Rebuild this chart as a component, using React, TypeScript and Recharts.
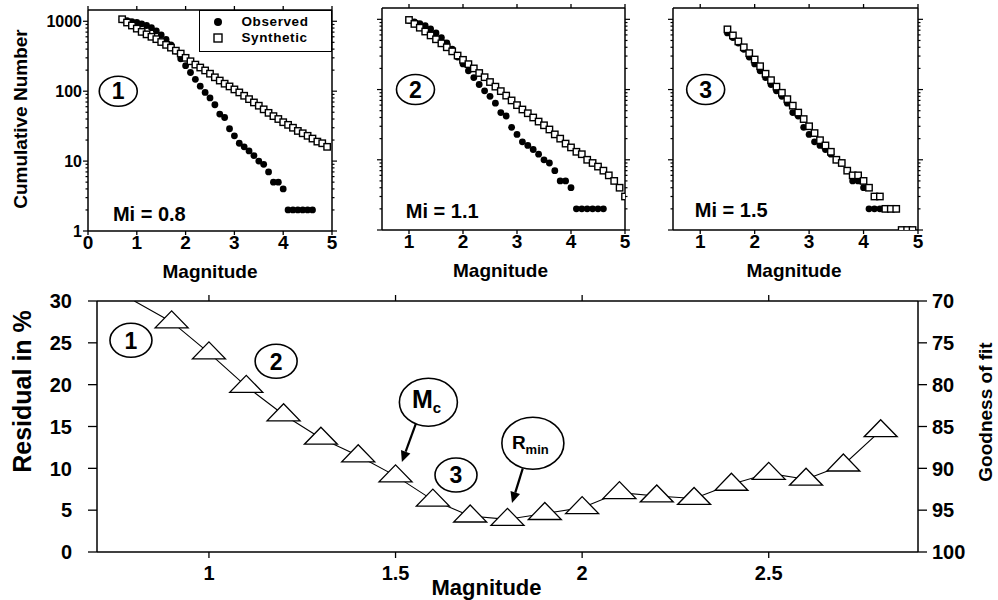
import React from 'react';
import {
  ScatterChart,
  Scatter,
  ComposedChart,
  Line,
  XAxis,
  YAxis,
  ReferenceDot,
  ReferenceLine,
  Legend,
} from 'recharts';

const FONT = '"Liberation Sans", Arial, Helvetica, sans-serif';
const INK = '#000';

// Observed catalogue: cumulative number of events with magnitude >= M
const observedMagnitudes = [
  0.7, 0.8, 0.9, 1.0, 1.1, 1.2, 1.3, 1.4, 1.5, 1.6, 1.7, 1.8, 1.9, 2.0,
  2.1, 2.2, 2.3, 2.4, 2.5, 2.6, 2.7, 2.8, 2.9, 3.0, 3.1, 3.2, 3.3, 3.4,
  3.5, 3.6, 3.7, 3.8, 3.9, 4.0, 4.1, 4.2, 4.3, 4.4, 4.5, 4.6,
];
const observedCounts = [
  1050, 1020, 990, 960, 920, 870, 810, 730, 640, 550, 460, 375, 290, 232,
  185, 148, 118, 96, 80, 64, 47, 42, 29, 23, 18, 16, 14, 12,
  10, 9, 7, 5, 5, 4, 2, 2, 2, 2, 2, 2,
];

// Synthetic distributions for the three cut-off magnitudes
const synthMagnitudes1 = [
  0.7, 0.8, 0.9, 1.0, 1.1, 1.2, 1.3, 1.4, 1.5, 1.6, 1.7, 1.8, 1.9, 2.0,
  2.1, 2.2, 2.3, 2.4, 2.5, 2.6, 2.7, 2.8, 2.9, 3.0, 3.1, 3.2, 3.3, 3.4,
  3.5, 3.6, 3.7, 3.8, 3.9, 4.0, 4.1, 4.2, 4.3, 4.4, 4.5, 4.6, 4.7, 4.8, 4.9,
];
const synthCounts1 = [
  1070, 960, 870, 785, 705, 650, 600, 555, 505, 460, 420, 380, 345, 300,
  268, 240, 218, 198, 178, 158, 142, 128, 117, 106, 96, 86, 77, 69,
  62, 55, 49, 44, 40, 36, 33, 30, 27, 25, 23, 21, 19, 18, 16,
];

const synthMagnitudes2 = [
  1.0, 1.1, 1.2, 1.3, 1.4, 1.5, 1.6, 1.7, 1.8, 1.9, 2.0, 2.1, 2.2, 2.3,
  2.4, 2.5, 2.6, 2.7, 2.8, 2.9, 3.0, 3.1, 3.2, 3.3, 3.4, 3.5, 3.6, 3.7,
  3.8, 3.9, 4.0, 4.1, 4.2, 4.3, 4.4, 4.5, 4.6, 4.7, 4.8, 4.9, 5.0,
];
const synthCounts2 = [
  980, 860, 760, 670, 590, 520, 455, 400, 350, 305, 265, 230, 200, 172,
  150, 128, 110, 95, 82, 70, 60, 52, 46, 40, 35, 31, 27, 23,
  20, 17, 15, 13, 12, 10, 9, 8, 7, 6, 5, 4, 3,
];

const synthMagnitudes3 = [
  1.5, 1.6, 1.7, 1.8, 1.9, 2.0, 2.1, 2.2, 2.3, 2.4, 2.5, 2.6, 2.7, 2.8,
  2.9, 3.0, 3.1, 3.2, 3.3, 3.4, 3.5, 3.6, 3.7, 3.8, 3.9, 4.0, 4.1, 4.2,
  4.3, 4.4, 4.5, 4.6, 4.7, 4.8, 4.9,
];
const synthCounts3 = [
  720, 590, 485, 400, 330, 268, 215, 168, 136, 110, 90, 73, 59, 47,
  38, 30, 24, 19, 16, 13, 10, 9, 7, 6, 6, 5, 4, 3,
  3, 2, 2, 2, 1, 1, 1,
];

const cutoffMagnitudes = [0.8, 1.1, 1.5];
const panelTags = ['1', '2', '3'];

const countTicks = [
  1, 2, 3, 4, 5, 6, 7, 8, 9,
  10, 20, 30, 40, 50, 60, 70, 80, 90,
  100, 200, 300, 400, 500, 600, 700, 800, 900,
  1000,
];
const countLabels = [1, 10, 100, 1000];
const magTicksFull = [0, 1, 2, 3, 4, 5];
const magTicksShort = [1, 2, 3, 4, 5];

// Residual scan over trial completeness magnitudes
const scanMagnitudes = [
  0.8, 0.9, 1.0, 1.1, 1.2, 1.3, 1.4, 1.5, 1.6, 1.7, 1.8,
  1.9, 2.0, 2.1, 2.2, 2.3, 2.4, 2.5, 2.6, 2.7, 2.8,
];
const residuals = [
  30, 27.5, 23.8, 19.8, 16.4, 13.6, 11.5, 9.1, 6.2, 4.3, 3.9,
  4.6, 5.3, 7.1, 6.7, 6.4, 8.1, 9.4, 8.7, 10.4, 14.5,
];
const scanTicks = [1, 1.5, 2, 2.5];
const residualTicks = [0, 5, 10, 15, 20, 25, 30];
const goodnessTicks = [70, 75, 80, 85, 90, 95, 100];

const pairs = (ms: number[], ns: number[]) => ms.map((m, i) => ({ m, n: ns[i] }));
const observed = pairs(observedMagnitudes, observedCounts);
const scanRows = scanMagnitudes.map((m, i) => ({ m, r: residuals[i] }));

const txt = { fontFamily: FONT, fontWeight: 700, fill: INK } as const;
const AXIS = { stroke: INK, strokeWidth: 1.5 };

/* ---------- tick renderers ---------- */
const bottomTick = (len: number, gap: number, size: number) => (p: any) => (
  <g>
    <line x1={p.x} x2={p.x} y1={p.y} y2={p.y + len} stroke={INK} strokeWidth={1.3} />
    <text x={p.x} y={p.y + gap} textAnchor="middle" fontSize={size} {...txt}>
      {p.payload.value}
    </text>
  </g>
);
const topTick = (len: number) => (p: any) => (
  <line x1={p.x} x2={p.x} y1={p.y} y2={p.y - len} stroke={INK} strokeWidth={1.3} />
);
const leftLogTick = (withLabels: boolean) => (p: any) => {
  const v = p.payload.value;
  const major = countLabels.includes(v);
  return (
    <g>
      <line x1={p.x} x2={p.x - (major ? 5 : 2.5)} y1={p.y} y2={p.y} stroke={INK} strokeWidth={1.2} />
      {withLabels && major && (
        <text x={p.x - 6} y={p.y} dy="0.36em" textAnchor="end" fontSize={16} {...txt}>
          {v}
        </text>
      )}
    </g>
  );
};
const rightLogTick = (p: any) => {
  const major = countLabels.includes(p.payload.value);
  return (
    <line x1={p.x} x2={p.x + (major ? 5 : 2.5)} y1={p.y} y2={p.y} stroke={INK} strokeWidth={1.2} />
  );
};
const sideTick = (dir: number, len: number, gap: number, size: number) => (p: any) => (
  <g>
    <line x1={p.x} x2={p.x + dir * len} y1={p.y} y2={p.y} stroke={INK} strokeWidth={1.3} />
    <text
      x={p.x + dir * gap}
      y={p.y}
      dy="0.36em"
      textAnchor={dir < 0 ? 'end' : 'start'}
      fontSize={size}
      {...txt}
    >
      {p.payload.value}
    </text>
  </g>
);

/* ---------- marks ---------- */
const ObservedDot = (p: any) => <circle cx={p.cx} cy={p.cy} r={3.4} fill={INK} />;
const SynthSquare = (p: any) => (
  <rect x={p.cx - 3.2} y={p.cy - 3.2} width={6.4} height={6.4} fill="#fff" stroke={INK} strokeWidth={1.4} />
);
const TriangleDot = (p: any) => {
  if (p.index === 0 || p.cx == null) return <g key={`tri-${p.index}`} />;
  const { cx, cy } = p;
  return (
    <polygon
      key={`tri-${p.index}`}
      points={`${cx},${cy - 11} ${cx + 16.5},${cy + 6} ${cx - 16.5},${cy + 6}`}
      fill="#fff"
      stroke={INK}
      strokeWidth={1.3}
    />
  );
};

/* ---------- annotations ---------- */
const circledTag = (text: string, rx: number, ry: number, size: number) => (p: any) => (
  <g>
    <ellipse cx={p.cx} cy={p.cy} rx={rx} ry={ry} fill="none" stroke={INK} strokeWidth={1.6} />
    <text x={p.cx} y={p.cy} dy="0.36em" textAnchor="middle" fontSize={size} {...txt}>
      {text}
    </text>
  </g>
);
const plainText = (text: string, size: number) => (p: any) => (
  <text x={p.cx} y={p.cy} fontSize={size} {...txt}>
    {text}
  </text>
);
const subscriptTag = (
  main: string,
  sub: string,
  rx: number,
  ry: number,
  mainSize: number,
  subSize: number,
  startDx: number,
) => (p: any) => (
  <g>
    <ellipse cx={p.cx} cy={p.cy} rx={rx} ry={ry} fill="#fff" stroke={INK} strokeWidth={1.6} />
    <text x={p.cx + startDx} y={p.cy + 5.5} fontSize={mainSize} {...txt}>
      {main}
      <tspan fontSize={subSize} dy={5}>
        {sub}
      </tspan>
    </text>
  </g>
);
const Arrow = (p: any) => {
  const { x1, y1, x2, y2 } = p;
  const ang = Math.atan2(y2 - y1, x2 - x1);
  const len = 11;
  const half = 5;
  const bx = x2 - len * Math.cos(ang);
  const by = y2 - len * Math.sin(ang);
  const px = -Math.sin(ang) * half;
  const py = Math.cos(ang) * half;
  return (
    <g>
      <line x1={x1} y1={y1} x2={bx} y2={by} stroke={INK} strokeWidth={2.2} />
      <polygon points={`${x2},${y2} ${bx + px},${by + py} ${bx - px},${by - py}`} fill={INK} />
    </g>
  );
};

const LegendBox = (props: any) => (
  <div
    style={{
      border: '1.5px solid #000',
      width: 133,
      height: 42,
      boxSizing: 'border-box',
      padding: '3px 0 0 13px',
      background: '#fff',
      fontFamily: FONT,
      fontWeight: 700,
      fontSize: 13.5,
      lineHeight: '16px',
      color: INK,
      letterSpacing: 0.6,
    }}
  >
    {(props.payload || []).map((entry: any) => (
      <div key={entry.value} style={{ display: 'flex', alignItems: 'center', height: 16 }}>
        <svg width={10} height={10} style={{ marginRight: 18.5, flex: 'none' }}>
          {entry.value === 'Observed' ? (
            <circle cx={5} cy={5} r={4} fill={INK} />
          ) : (
            <rect x={1} y={1} width={8} height={8} fill="#fff" stroke={INK} strokeWidth={1.4} />
          )}
        </svg>
        <span>{entry.value}</span>
      </div>
    ))}
  </div>
);

/* ---------- one cumulative-number panel ---------- */
type PanelProps = {
  left: number;
  width: number;
  height: number;
  margin: { top: number; right: number; bottom: number; left: number };
  yAxisWidth: number;
  xAxisHeight: number;
  xDomain: [number, number];
  xTicks: number[];
  obsFrom: number;
  synth: { m: number; n: number }[];
  countLabelsShown: boolean;
  yTitle: boolean;
  legend: boolean;
  index: number;
  tagAt: { x: number; y: number };
  miAt: { x: number; y: number };
  titleBaseline: number;
  titleDx: number;
};

function CountPanel(props: PanelProps) {
  const obs = observed.filter((d) => d.m >= props.obsFrom - 1e-6);
  const mi = cutoffMagnitudes[props.index];
  return (
    <div style={{ position: 'absolute', left: props.left, top: 0 }}>
      <ScatterChart width={props.width} height={props.height} margin={props.margin}>
        <XAxis
          xAxisId="b"
          dataKey="m"
          type="number"
          domain={props.xDomain}
          ticks={props.xTicks}
          interval={0}
          allowDataOverflow
          height={props.xAxisHeight}
          tickSize={0}
          tickMargin={0}
          tickLine={false}
          axisLine={AXIS}
          tick={bottomTick(4, 17.5, 19)}
          label={(p: any) => {
            const vb = p.viewBox;
            return (
              <text
                x={vb.x + vb.width / 2 + props.titleDx}
                y={vb.y + props.titleBaseline}
                textAnchor="middle"
                fontSize={19}
                {...txt}
              >
                Magnitude
              </text>
            );
          }}
        />
        <XAxis
          xAxisId="t"
          dataKey="m"
          orientation="top"
          type="number"
          domain={props.xDomain}
          ticks={props.xTicks}
          interval={0}
          allowDataOverflow
          height={4}
          tickSize={0}
          tickMargin={0}
          tickLine={false}
          axisLine={AXIS}
          tick={topTick(4)}
        />
        <YAxis
          yAxisId="l"
          dataKey="n"
          type="number"
          scale="log"
          domain={[1, 1450]}
          allowDataOverflow
          ticks={countTicks}
          interval={0}
          width={props.yAxisWidth}
          tickSize={0}
          tickMargin={0}
          tickLine={false}
          axisLine={AXIS}
          tick={leftLogTick(props.countLabelsShown)}
          label={
            props.yTitle
              ? (p: any) => {
                  const vb = p.viewBox;
                  const cy = vb.y + vb.height / 2 - 1.5;
                  return (
                    <text
                      transform={`translate(20, ${cy}) rotate(-90)`}
                      dy="0.36em"
                      textAnchor="middle"
                      fontSize={19}
                      {...txt}
                    >
                      Cumulative Number
                    </text>
                  );
                }
              : undefined
          }
        />
        <YAxis
          yAxisId="r"
          dataKey="n"
          orientation="right"
          type="number"
          scale="log"
          domain={[1, 1450]}
          allowDataOverflow
          ticks={countTicks}
          interval={0}
          width={5}
          tickSize={0}
          tickMargin={0}
          tickLine={false}
          axisLine={AXIS}
          tick={rightLogTick}
        />
        <Scatter
          xAxisId="b"
          yAxisId="l"
          name="Observed"
          data={obs}
          shape={ObservedDot}
          isAnimationActive={false}
        />
        <Scatter
          xAxisId="b"
          yAxisId="l"
          name="Synthetic"
          data={props.synth}
          shape={SynthSquare}
          isAnimationActive={false}
        />
        <ReferenceDot
          xAxisId="b"
          yAxisId="l"
          x={props.tagAt.x}
          y={props.tagAt.y}
          shape={circledTag(panelTags[props.index], 19, 15, 23)}
        />
        <ReferenceDot
          xAxisId="b"
          yAxisId="l"
          x={props.miAt.x}
          y={props.miAt.y}
          shape={plainText(`Mi = ${mi.toFixed(1)}`, 20)}
        />
        {props.legend && (
          <Legend
            layout="horizontal"
            verticalAlign="middle"
            align="center"
            content={LegendBox}
            wrapperStyle={{ left: 199, top: 9.5, width: 133, height: 42 }}
          />
        )}
      </ScatterChart>
    </div>
  );
}

/* ---------- residual / goodness-of-fit scan ---------- */
function ScanChart() {
  return (
    <div style={{ position: 'absolute', left: 0, top: 285 }}>
      <ComposedChart width={998} height={315} data={scanRows} margin={{ top: 10, right: 0, bottom: 0, left: 0 }}>
        <XAxis
          xAxisId="b"
          dataKey="m"
          type="number"
          domain={[0.7, 2.9]}
          ticks={scanTicks}
          interval={0}
          allowDataOverflow
          height={48}
          tickSize={0}
          tickMargin={0}
          tickLine={false}
          axisLine={AXIS}
          tick={bottomTick(6, 28, 20)}
          label={(p: any) => {
            const vb = p.viewBox;
            return (
              <text x={vb.x + vb.width / 2 - 21} y={vb.y + 43} textAnchor="middle" fontSize={22} {...txt}>
                Magnitude
              </text>
            );
          }}
        />
        <XAxis
          xAxisId="t"
          dataKey="m"
          orientation="top"
          type="number"
          domain={[0.7, 2.9]}
          ticks={scanTicks}
          interval={0}
          allowDataOverflow
          height={6}
          tickSize={0}
          tickMargin={0}
          tickLine={false}
          axisLine={AXIS}
          tick={topTick(6)}
        />
        <YAxis
          yAxisId="l"
          type="number"
          domain={[0, 30]}
          ticks={residualTicks}
          interval={0}
          allowDataOverflow
          width={97}
          tickSize={0}
          tickMargin={0}
          tickLine={false}
          axisLine={AXIS}
          tick={sideTick(-1, 9, 25, 20)}
          label={(p: any) => {
            const vb = p.viewBox;
            const cy = vb.y + vb.height / 2 - 35;
            return (
              <text transform={`translate(22, ${cy}) rotate(-90)`} dy="0.36em" textAnchor="middle" fontSize={25} {...txt}>
                Residual in %
              </text>
            );
          }}
        />
        <YAxis
          yAxisId="r"
          orientation="right"
          type="number"
          domain={[70, 100]}
          reversed
          ticks={goodnessTicks}
          interval={0}
          allowDataOverflow
          width={80}
          tickSize={0}
          tickMargin={0}
          tickLine={false}
          axisLine={AXIS}
          tick={sideTick(1, 9, 14, 20)}
          label={(p: any) => {
            const vb = p.viewBox;
            const cy = vb.y + vb.height / 2 - 14.5;
            return (
              <text transform={`translate(985, ${cy}) rotate(-90)`} dy="0.36em" textAnchor="middle" fontSize={19} {...txt}>
                Goodness of fit
              </text>
            );
          }}
        />
        <Line
          xAxisId="b"
          yAxisId="l"
          dataKey="r"
          type="linear"
          stroke={INK}
          strokeWidth={1.1}
          dot={TriangleDot}
          activeDot={false}
          isAnimationActive={false}
        />
        <ReferenceDot xAxisId="b" yAxisId="l" x={0.791} y={25.3} shape={circledTag('1', 21, 17, 23)} />
        <ReferenceDot xAxisId="b" yAxisId="l" x={1.18} y={22.8} shape={circledTag('2', 21, 17, 23)} />
        <ReferenceDot xAxisId="b" yAxisId="l" x={1.662} y={9.2} shape={circledTag('3', 21, 17, 23)} />
        <ReferenceDot xAxisId="b" yAxisId="l" x={1.588} y={17.9} shape={subscriptTag('M', 'c', 29, 24, 25, 15, -16.5)} />
        <ReferenceDot xAxisId="b" yAxisId="l" x={1.868} y={13.0} shape={subscriptTag('R', 'min', 31, 26, 19, 13, -21)} />
        <ReferenceLine
          xAxisId="b"
          yAxisId="l"
          segment={[
            { x: 1.555, y: 15.4 },
            { x: 1.517, y: 10.75 },
          ]}
          shape={Arrow}
        />
        <ReferenceLine
          xAxisId="b"
          yAxisId="l"
          segment={[
            { x: 1.841, y: 10.0 },
            { x: 1.812, y: 5.85 },
          ]}
          shape={Arrow}
        />
      </ComposedChart>
    </div>
  );
}

export default function App() {
  return (
    <div
      style={{
        position: 'absolute',
        left: 0,
        top: 0,
        width: 998,
        height: 600,
        background: '#fff',
        overflow: 'hidden',
      }}
    >
      <CountPanel
        left={0}
        width={345}
        height={285}
        margin={{ top: 6, right: 8, bottom: 0, left: 8 }}
        yAxisWidth={80}
        xAxisHeight={54}
        xDomain={[0, 5]}
        xTicks={magTicksFull}
        obsFrom={0.7}
        synth={pairs(synthMagnitudes1, synthCounts1)}
        countLabelsShown
        yTitle
        legend
        index={0}
        tagAt={{ x: 0.62, y: 100 }}
        miAt={{ x: 0.51, y: 1.39 }}
        titleBaseline={47}
        titleDx={0}
      />
      <CountPanel
        left={345}
        width={295}
        height={285}
        margin={{ top: 4, right: 10, bottom: 0, left: 0 }}
        yAxisWidth={37}
        xAxisHeight={55}
        xDomain={[0.5, 5]}
        xTicks={magTicksShort}
        obsFrom={1.0}
        synth={pairs(synthMagnitudes2, synthCounts2)}
        countLabelsShown={false}
        yTitle={false}
        legend={false}
        index={1}
        tagAt={{ x: 1.12, y: 100 }}
        miAt={{ x: 0.94, y: 1.48 }}
        titleBaseline={47}
        titleDx={-3}
      />
      <CountPanel
        left={640}
        width={300}
        height={285}
        margin={{ top: 4, right: 17, bottom: 0, left: 0 }}
        yAxisWidth={33}
        xAxisHeight={55}
        xDomain={[0.5, 5]}
        xTicks={magTicksShort}
        obsFrom={1.5}
        synth={pairs(synthMagnitudes3, synthCounts3)}
        countLabelsShown={false}
        yTitle={false}
        legend={false}
        index={2}
        tagAt={{ x: 1.1, y: 100 }}
        miAt={{ x: 0.9, y: 1.55 }}
        titleBaseline={47}
        titleDx={-1.5}
      />
      <ScanChart />
    </div>
  );
}
